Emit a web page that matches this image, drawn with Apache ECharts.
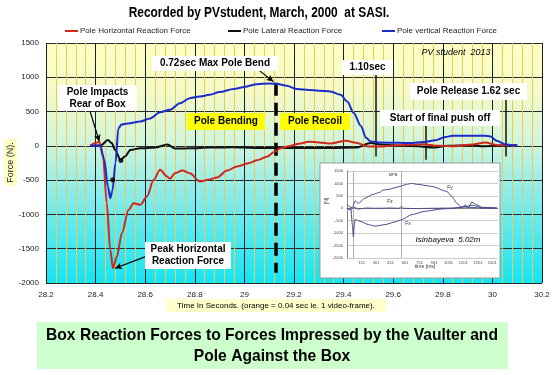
<!DOCTYPE html>
<html>
<head>
<meta charset="utf-8">
<script src="https://cdn.jsdelivr.net/npm/echarts@6/dist/echarts.min.js"></script>
<style>
  html, body { margin: 0; padding: 0; background: #fff; }
  #chart { width: 555px; height: 375px; }
</style>
</head>
<body>
<div id="chart"></div>
<script>
// main chart: force readings (N) against time (s)
var horizTime = [28.378, 28.40, 28.415, 28.43, 28.445, 28.459, 28.47, 28.486, 28.506, 28.533, 28.553, 28.58, 28.607, 28.634, 28.66, 28.688, 28.70, 28.72, 28.75, 28.78, 28.82, 28.86, 28.89, 28.93, 28.97, 29.02, 29.05, 29.09, 29.12, 29.145, 29.18, 29.22, 29.26, 29.30, 29.35, 29.41, 29.45, 29.50, 29.55, 29.60, 29.66, 29.72, 29.78, 29.85, 29.92, 29.97, 30.02, 30.07, 30.10];
var horizForce = [0, 40, 60, -156, -833, -1516, -1783, -1614, -1273, -933, -836, -860, -739, -496, -350, -447, -480, -400, -360, -400, -520, -490, -460, -360, -300, -250, -210, -160, -90, -34, -5, 30, 60, 50, 35, 75, 45, -10, -10, 5, 15, 25, 0, -5, 20, 50, 10, 10, 5];

var latTime = [28.378, 28.42, 28.45, 28.465, 28.479, 28.50, 28.52, 28.54, 28.58, 28.64, 28.69, 28.72, 28.78, 28.86, 28.95, 29.05, 29.15, 29.25, 29.35, 29.45, 29.51, 29.55, 29.62, 29.70, 29.76, 29.82, 29.90, 29.97, 30.05, 30.10];
var latForce = [0, 5, 85, 40, -60, -204, -150, -60, -35, -25, 20, -40, -35, -25, -20, -30, -30, -30, -30, -25, 40, 20, 5, -5, -25, 0, 10, -5, 5, 5];

var vertTime = [28.378, 28.418, 28.435, 28.45, 28.459, 28.468, 28.48, 28.492, 28.505, 28.53, 28.58, 28.62, 28.66, 28.70, 28.74, 28.78, 28.82, 28.86, 28.90, 28.957, 29.00, 29.05, 29.10, 29.13, 29.17, 29.21, 29.26, 29.30, 29.347, 29.388, 29.415, 29.44, 29.47, 29.49, 29.51, 29.55, 29.62, 29.67, 29.72, 29.77, 29.81, 29.84, 29.91, 29.97, 29.99, 30.02, 30.05, 30.08, 30.10];
var vertForce = [0, 5, -200, -600, -763, -650, -250, 258, 310, 325, 355, 400, 490, 525, 620, 695, 720, 744, 785, 830, 860, 900, 910, 905, 875, 830, 816, 805, 792, 744, 646, 481, 290, 120, 63, 48, 45, 40, 55, 80, 130, 146, 146, 146, 140, 70, 25, 10, 10];

var dotTime = [28.469, 28.502];
var dotForce = [-496, -214];

// event markers [time, top force, bottom force]
var eventTime = [29.125, 29.53, 29.73, 30.054];
var eventTop = [920, 1035, 330, 700];
var eventBottom = [-1850, -156, -204, -156];

// callout arrows [t1, f1, t2, f2]
var arrowFrom = [[28.378, 500], [29.057, 1108], [28.62, -1589]];
var arrowTo = [[28.415, 63], [29.117, 937], [28.478, -1785]];

// inset chart (Isinbayeva), time in ms
var fyTime = [0, 28, 55, 83, 117, 183, 269, 338, 372, 441, 527, 614, 665, 734, 876, 1031, 1083, 1134, 1186, 1220, 1255, 1290, 1341, 1393, 1548];
var fyForce = [150, 60, 20, 300, 200, 400, 560, 640, 730, 770, 860, 960, 1000, 960, 880, 680, 480, 210, 10, 140, 10, 250, 140, 40, 10];
var fzTime = [0, 40, 70, 120, 200, 300, 450, 540, 560, 580, 700, 900, 1100, 1200, 1300, 1400, 1548];
var fzForce = [0, -60, 40, -30, 10, 0, 10, 0, 80, 0, -10, 0, 10, 50, 30, 10, 10];
var fxTime = [0, 41, 55, 66, 76, 83, 134, 221, 290, 393, 496, 565, 669, 807, 979, 1100, 1200, 1300, 1400, 1548];
var fxForce = [0, -56, -656, -1148, -656, -456, -520, -656, -720, -656, -548, -456, -256, -120, -28, 0, 60, 120, 20, 0];
var insetMarks = [62, 560];

var names = ['Pole Horizontal Reaction Force', 'Pole Lateral Reaction Force', 'Pole vertical Reaction Force'];

function pairs(a, b) {
    var out = [];
    for (var i = 0; i < a.length; i++) out.push([a[i], b[i]]);
    return out;
}

var myChart = echarts.init(document.getElementById('chart'));
var FONT = 'Liberation Sans, Arial, sans-serif';

// text boxes on the plot
var boxes = [
    {x: 58, y: 85, w: 79, h: 26, text: 'Pole Impacts\nRear of Box', fill: '#fff'},
    {x: 152, y: 56, w: 126, h: 15, text: '0.72sec Max Pole Bend', fill: '#fff'},
    {x: 187, y: 113, w: 78, h: 17, text: 'Pole Bending', fill: '#ffff00'},
    {x: 280, y: 113, w: 70, h: 17, text: 'Pole Recoil', fill: '#ffff00'},
    {x: 342, y: 60, w: 51, h: 15, text: '1.10sec', fill: '#fff'},
    {x: 410, y: 83, w: 117, h: 17, text: 'Pole Release 1.62 sec', fill: '#fff'},
    {x: 380, y: 110, w: 120, h: 16, text: 'Start of final push off', fill: '#fff'},
    {x: 145, y: 242, w: 86, h: 27, text: 'Peak Horizontal\nReaction Force', fill: '#fff'}
];

var graphics = [];
boxes.forEach(function (b) {
    graphics.push({type: 'rect', z: 20, shape: {x: b.x, y: b.y, width: b.w, height: b.h}, style: {fill: b.fill}});
    graphics.push({type: 'text', z: 21, x: b.x + b.w / 2, y: b.y + b.h / 2,
        style: {text: b.text, font: 'bold 10px ' + FONT, textAlign: 'center', textVerticalAlign: 'middle', fill: '#000', lineHeight: 12}});
});
graphics.push(
    {type: 'text', z: 21, x: 259, y: 13, scaleX: 0.85,
        style: {text: 'Recorded by PVstudent, March, 2000  at SASI.', font: 'bold 14px ' + FONT, textAlign: 'center', textVerticalAlign: 'middle', fill: '#000'}},
    {type: 'text', z: 21, x: 456, y: 52,
        style: {text: 'PV student  2013', font: 'italic 9px ' + FONT, textAlign: 'center', textVerticalAlign: 'middle', fill: '#000'}},
    // y axis title
    {type: 'rect', z: 1, shape: {x: 4, y: 139, width: 13, height: 47}, style: {fill: '#ffffc4'}},
    {type: 'text', z: 2, x: 10.5, y: 162.5, rotation: Math.PI / 2,
        style: {text: 'Force (N).', font: '9px ' + FONT, textAlign: 'center', textVerticalAlign: 'middle', fill: '#222'}},
    // x axis title
    {type: 'rect', z: 1, shape: {x: 166, y: 299, width: 220, height: 13}, style: {fill: '#ffffcc'}},
    {type: 'text', z: 2, x: 276, y: 305.5,
        style: {text: 'Time In Seconds. (orange = 0.04 sec ie. 1 video-frame).', font: '8px ' + FONT, textAlign: 'center', textVerticalAlign: 'middle', fill: '#000'}},
    {type: 'rect', z: 1, shape: {x: 37, y: 322, width: 471, height: 47}, style: {fill: '#ccffcc'}},
    {type: 'text', z: 2, x: 272, y: 346, scaleX: 0.92,
        style: {text: 'Box Reaction Forces to Forces Impressed by the Vaulter and\nPole Against the Box', font: 'bold 17px ' + FONT, textAlign: 'center', textVerticalAlign: 'middle', fill: '#000', lineHeight: 21}},
    // inset frame
    {type: 'rect', z: 1, shape: {x: 320, y: 163, width: 180, height: 115}, style: {fill: '#fff', stroke: '#9a9a9a', lineWidth: 1}},
    {type: 'text', z: 21, x: 327, y: 201, rotation: Math.PI / 2,
        style: {text: '[N]', font: '5px ' + FONT, textAlign: 'center', textVerticalAlign: 'middle', fill: '#333'}},
    {type: 'text', z: 21, x: 425, y: 267,
        style: {text: 'time [ms]', font: '5px ' + FONT, textAlign: 'center', textVerticalAlign: 'middle', fill: '#333'}},
    {type: 'text', z: 21, x: 448, y: 240,
        style: {text: 'Isinbayeva  5.02m', font: 'italic 8px ' + FONT, textAlign: 'center', textVerticalAlign: 'middle', fill: '#000'}},
    {type: 'text', z: 21, x: 393, y: 175, style: {text: 'MPB', font: '4px ' + FONT, textAlign: 'center', textVerticalAlign: 'middle', fill: '#333'}},
    {type: 'text', z: 21, x: 450, y: 188, style: {text: 'Fy', font: '5px ' + FONT, textAlign: 'center', textVerticalAlign: 'middle', fill: '#333'}},
    {type: 'text', z: 21, x: 390, y: 202, style: {text: 'Fz', font: '5px ' + FONT, textAlign: 'center', textVerticalAlign: 'middle', fill: '#333'}},
    {type: 'text', z: 21, x: 408, y: 224, style: {text: 'Fx', font: '5px ' + FONT, textAlign: 'center', textVerticalAlign: 'middle', fill: '#333'}}
);

var eventLines = [];
for (var i = 0; i < eventTime.length; i++) {
    eventLines.push([
        {coord: [eventTime[i], eventTop[i]], symbol: 'none',
            lineStyle: i === 0 ? {type: [13, 7], width: 3.5, color: '#000'} : {type: 'solid', width: 1.5, color: '#111'}},
        {coord: [eventTime[i], eventBottom[i]], symbol: 'none'}
    ]);
}
for (var j = 0; j < arrowFrom.length; j++) {
    eventLines.push([
        {coord: arrowFrom[j], symbol: 'none', lineStyle: {type: 'solid', width: 1.2, color: '#000'}},
        {coord: arrowTo[j], symbol: 'arrow', symbolSize: [5, 7]}
    ]);
}

var insetLine = {type: 'line', xAxisIndex: 1, yAxisIndex: 1, symbol: 'none', smooth: 0.2, smoothMonotone: 'x', z: 12,
    lineStyle: {color: '#4a4a8c', width: 1}, silent: true};

option = {
    animation: false,
    textStyle: {fontFamily: FONT},
    grid: [
        {left: 46, right: 13, top: 43, bottom: 92, show: true, borderWidth: 0, outerBoundsMode: 'none', containLabel: false,
            backgroundColor: new echarts.graphic.LinearGradient(0, 0, 0, 1, [
                {offset: 0, color: '#ffffc4'},
                {offset: 0.2, color: '#f4fac8'},
                {offset: 0.42, color: '#d0f4dc'},
                {offset: 0.62, color: '#8cecea'},
                {offset: 1, color: '#14e4f2'}
            ])},
        {left: 347, right: 57, top: 171, bottom: 117, z: 2, outerBoundsMode: 'none', containLabel: false}
    ],
    legend: [
        {data: [names[0]], left: 65, top: 27},
        {data: [names[1]], left: 228, top: 27},
        {data: [names[2]], left: 382, top: 27}
    ].map(function (l) {
        l.icon = 'rect'; l.itemWidth = 13; l.itemHeight = 2; l.itemGap = 2; l.padding = 0;
        l.textStyle = {fontSize: 8, color: '#222', padding: [0, 0, 0, -3]};
        return l;
    }),
    xAxis: [
        {gridIndex: 0, type: 'value', min: 28.2, max: 30.2, interval: 0.2,
            axisLine: {show: false, onZero: false}, axisTick: {show: false},
            axisLabel: {fontSize: 8, color: '#222', margin: 8, formatter: function (v) { return String(+v.toFixed(1)); }},
            splitLine: {show: true, lineStyle: {color: '#1e1e1e', width: 1}},
            minorTick: {show: false, splitNumber: 5},
            minorSplitLine: {show: true, lineStyle: {color: '#e6cc5e', width: 1}}},
        {gridIndex: 1, type: 'value', min: 0, max: 1560, interval: 150, z: 3,
            axisLine: {onZero: true, lineStyle: {color: '#888'}}, axisTick: {show: false},
            axisLabel: {fontSize: 4, color: '#444', margin: 3, showMaxLabel: false,
                formatter: function (v) { return v === 0 ? '' : String(v + 1); }},
            splitLine: {show: false}}
    ],
    yAxis: [
        {gridIndex: 0, type: 'value', min: -2000, max: 1500, interval: 500,
            axisLine: {show: false}, axisTick: {show: false},
            axisLabel: {fontSize: 8, color: '#222', margin: 7, formatter: function (v) { return String(v); }},
            splitLine: {lineStyle: {color: '#2a2a2a', width: 1}}},
        {gridIndex: 1, type: 'value', min: -2000, max: 1500, interval: 500, z: 3,
            axisLine: {show: true, lineStyle: {color: '#888'}}, axisTick: {show: false},
            axisLabel: {fontSize: 4, color: '#444', margin: 4, formatter: function (v) { return String(v); }},
            splitLine: {lineStyle: {color: '#a8a8a8', width: 0.6}}}
    ],
    graphic: {elements: graphics},
    series: [
        {name: names[0], type: 'line', data: pairs(horizTime, horizForce), symbol: 'none', smooth: 0.3, smoothMonotone: 'x', z: 5,
            itemStyle: {color: '#d0281a'}, lineStyle: {color: '#d0281a', width: 2}},
        {name: names[1], type: 'line', data: pairs(latTime, latForce), symbol: 'none', smooth: 0.3, smoothMonotone: 'x', z: 4,
            itemStyle: {color: '#111'}, lineStyle: {color: '#111', width: 2},
            markLine: {silent: true, symbol: 'none', label: {show: false}, data: eventLines}},
        {name: names[2], type: 'line', data: pairs(vertTime, vertForce), symbol: 'none', smooth: 0.3, smoothMonotone: 'x', z: 6,
            itemStyle: {color: '#1c2ccc'}, lineStyle: {color: '#1c2ccc', width: 2}},
        {name: 'dots', type: 'scatter', data: pairs(dotTime, dotForce), symbolSize: 5, z: 7,
            itemStyle: {color: '#000'}},
        Object.assign({name: 'Fy', data: pairs(fyTime, fyForce)}, insetLine),
        Object.assign({name: 'Fz', data: pairs(fzTime, fzForce)}, insetLine),
        Object.assign({name: 'Fx', data: pairs(fxTime, fxForce),
            markLine: {silent: true, symbol: 'none', label: {show: false},
                lineStyle: {color: '#999', width: 0.8, type: 'solid'},
                data: insetMarks.map(function (m, k) {
                    return {xAxis: m, lineStyle: {color: k === 0 ? '#c09090' : '#999'}};
                })}}, insetLine)
    ]
};

myChart.setOption(option);
</script>
</body>
</html>
